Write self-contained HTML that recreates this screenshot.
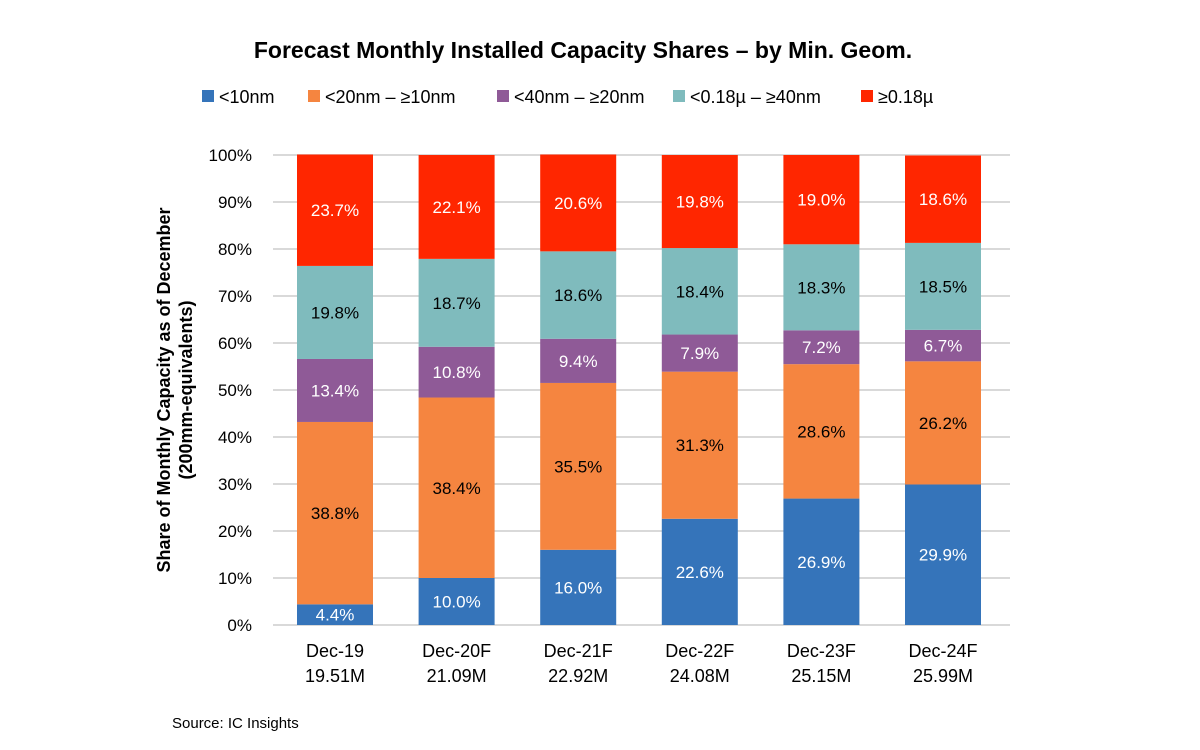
<!DOCTYPE html>
<html><head><meta charset="utf-8"><style>
body{margin:0;background:#fff;}
svg{display:block;font-family:"Liberation Sans",Arial,sans-serif;}
</style></head><body>
<svg id="chart" width="1200" height="750">
<text x="583" y="58" text-anchor="middle" font-size="23" font-weight="bold" fill="#000">Forecast Monthly Installed Capacity Shares – by Min. Geom.</text>
<g id="legend"></g>
<g id="grid"></g>
<g id="bars"></g>
<g id="xlabels"></g>
<text transform="translate(170,390) rotate(-90)" text-anchor="middle" font-size="18" font-weight="bold"><tspan x="0" dy="0">Share of Monthly Capacity as of December</tspan><tspan x="0" dy="22">(200mm-equivalents)</tspan></text>
<text x="172" y="728" font-size="15">Source:  IC Insights</text>
</svg>
<script>
const categories=["Dec-19","Dec-20F","Dec-21F","Dec-22F","Dec-23F","Dec-24F"];
const totals=["19.51M","21.09M","22.92M","24.08M","25.15M","25.99M"];
const seriesNames=["<10nm","<20nm – ≥10nm","<40nm – ≥20nm","<0.18µ – ≥40nm","≥0.18µ"];
const s10=[4.4,10.0,16.0,22.6,26.9,29.9];
const s20=[38.8,38.4,35.5,31.3,28.6,26.2];
const s40=[13.4,10.8,9.4,7.9,7.2,6.7];
const s180=[19.8,18.7,18.6,18.4,18.3,18.5];
const sBig=[23.7,22.1,20.6,19.8,19.0,18.6];
const yTicks=[0,10,20,30,40,50,60,70,80,90,100];
const colors=["#3574ba","#f58540","#8f5a97","#7fbbbd","#ff2600"];
const textColors=["#fff","#000","#fff","#000","#fff"];
const series=[s10,s20,s40,s180,sBig];
const NS="http://www.w3.org/2000/svg";
const y0=625,y1=155,x0=273,x1=1010,barW=76,firstX=297,pitch=121.6;
const y=v=>y0-(v/100)*(y0-y1);
const xc=i=>firstX+barW/2+i*pitch;
function mk(tag,attrs,parent,txt){const e=document.createElementNS(NS,tag);for(const k in attrs)e.setAttribute(k,attrs[k]);if(txt!==undefined)e.textContent=txt;parent.appendChild(e);return e;}
const grid=document.getElementById('grid');
yTicks.forEach(t=>{
 const l=mk('line',{x1:x0,x2:x1,y1:y(t),y2:y(t),stroke:'#d9d9d9','stroke-width':2},grid);
 
 
 const tx=mk('text',{x:252,y:y(t)+6,'text-anchor':'end','font-size':17},grid,t+'%');
 
 
});
const bars=document.getElementById('bars');
categories.forEach((c,i)=>{
 let acc=0;
 series.forEach((s,j)=>{
  const v=s[i];
  const r=mk('rect',{x:xc(i)-barW/2,y:y(acc+v),width:barW,height:y(acc)-y(acc+v),fill:colors[j]},bars);
  
  
  const t=mk('text',{x:xc(i),y:y(acc+v/2)+6,'text-anchor':'middle','font-size':17,fill:textColors[j]},bars,v.toFixed(1)+'%');
  
  
  acc+=v;
 });
});
const xl=document.getElementById('xlabels');
categories.forEach((c,i)=>{
 const t=mk('text',{x:xc(i),y:657,'text-anchor':'middle','font-size':18},xl,c);
 
 
 const t2=mk('text',{x:xc(i),y:682,'text-anchor':'middle','font-size':18},xl,totals[i]);
 
 
});
const lg=document.getElementById('legend');
const lx=[202,308,497,673,861];
seriesNames.forEach((n,j)=>{
 const r=mk('rect',{x:lx[j],y:90,width:12,height:12,fill:colors[j]},lg);
 
 
 const t=mk('text',{x:lx[j]+17,y:103,'font-size':18},lg,n);
 
 
});
</script>
</body></html>
